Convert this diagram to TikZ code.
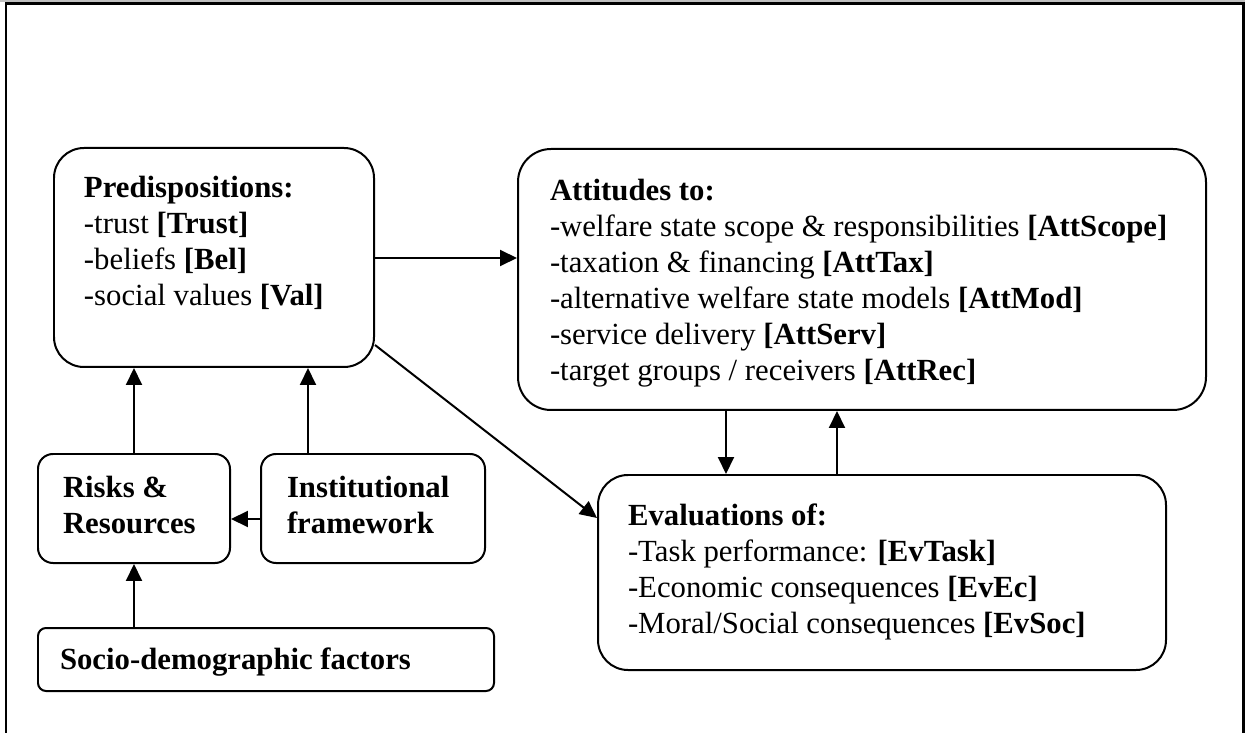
\documentclass[tikz,border=0pt]{standalone}
\usepackage{fontspec}
\setmainfont{Liberation Serif}
\usetikzlibrary{arrows.meta}

\newlength{\px}
\setlength{\px}{0.02cm}

% box text: width, height, top gap, left gap, lines
\newcommand{\boxbody}[5]{\parbox[c][#2\px][t]{#1\px}{\vspace*{#3\px}\raggedright\leftskip=#4\px\relax #5}}

\tikzset{
    card/.style={draw, line width=0.04cm, inner sep=0pt, anchor=north west, font=\fontsize{17.5}{20.5}\selectfont},
    arr/.style={line width=0.04cm, -{Triangle[length=0.34cm, width=0.32cm]}},
}

\begin{document}
\begin{tikzpicture}[x=0.02cm, y=-0.02cm]

        \useasboundingbox (0,0) rectangle (1245,733);

        % frame round the figure
        \fill[black!25] (0,0) rectangle (1245,2.5);
        \draw[line width=0.045cm] (6,733) -- (6,3.5) -- (1243.5,3.5) -- (1243.5,733);

        % Define nodes (boxes)

        \node (pred) at (53,147) [card, rounded corners=0.6cm] {\boxbody{320}{219}{28}{30}{\textbf{Predispositions:}\\
            -trust \textbf{[Trust]}\\
            -beliefs \textbf{[Bel]}\\
            -social values \textbf{[Val]}}};

        \node (att) at (517,148) [card, rounded corners=0.66cm] {\boxbody{688}{261}{30}{32}{\textbf{Attitudes to:}\\
            -welfare state scope \& responsibilities \textbf{[AttScope]}\\
            -taxation \& financing \textbf{[AttTax]}\\
            -alternative welfare state models \textbf{[AttMod]}\\
            -service delivery \textbf{[AttServ]}\\
            -target groups / receivers \textbf{[AttRec]}}};

        \node (eval) at (597,474) [card, rounded corners=0.6cm] {\boxbody{568}{195}{29}{30}{\textbf{Evaluations of:}\\
            -Task performance: \textbf{[EvTask]}\\
            -Economic consequences \textbf{[EvEc]}\\
            -Moral/Social consequences \textbf{[EvSoc]}}};

        \node (risk) at (37,453) [card, rounded corners=0.3cm] {\boxbody{192}{109}{22}{25}{\textbf{Risks \&}\\ \textbf{Resources}}};

        \node (inst) at (260,453) [card, rounded corners=0.3cm] {\boxbody{224}{109}{22}{26}{\textbf{Institutional}\\ \textbf{framework}}};

        \node (socio) at (37,627) [card, rounded corners=0.16cm] {\boxbody{456}{63}{20}{22}{\textbf{Socio-demographic factors}}};

        % Draw arrows between nodes

        \draw[arr] (risk.north) -- (risk.north |- pred.south);

        \draw[arr] (inst.north -| 308,0) -- (pred.south -| 308,0);

        \draw[arr] (inst.west |- 0,519) -- (risk.east |- 0,519);

        \draw[arr] (risk.south |- socio.north) -- (risk.south);

        \draw[arr] (pred.east |- 0,258) -- (att.west |- 0,258);

        \draw[arr] (pred.east |- 0,345) -- (eval.west |- 0,518);

        \draw[arr] (att.south -| 726,0) -- (eval.north -| 726,0);

        \draw[arr] (eval.north -| 837,0) -- (att.south -| 837,0);

    \end{tikzpicture}
\end{document}
